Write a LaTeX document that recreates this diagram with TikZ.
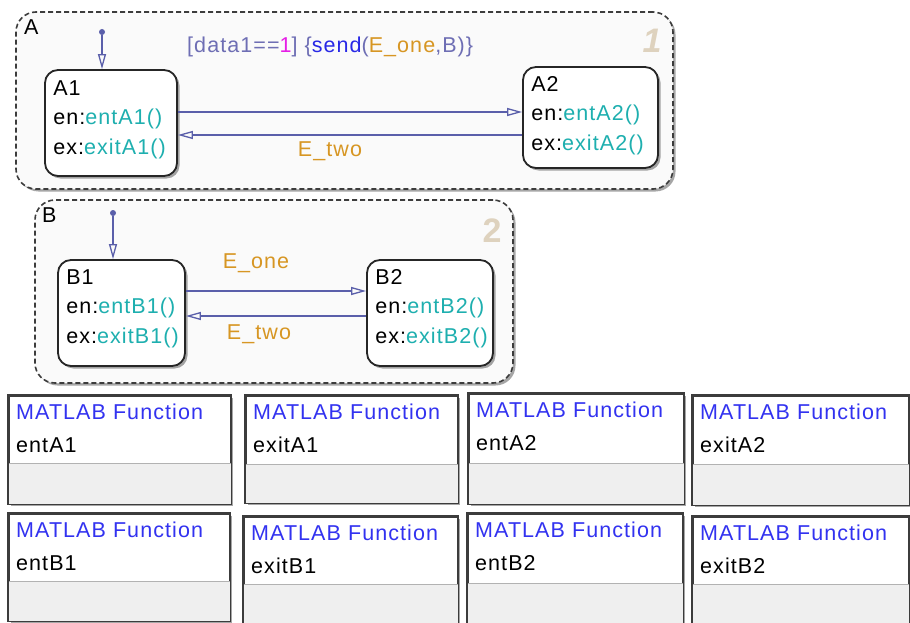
\documentclass[tikz,border=0pt]{standalone}
\usepackage{fontspec}
\setmainfont{Liberation Sans}[LetterSpace=5]
\usetikzlibrary{arrows.meta,shadows,calc}
\definecolor{trcol}{RGB}{90,95,170}
\definecolor{slate}{RGB}{110,110,180}
\definecolor{mag}{RGB}{230,30,230}
\definecolor{sendblue}{RGB}{40,40,230}
\definecolor{evorange}{RGB}{215,150,35}
\definecolor{fnteal}{RGB}{30,175,175}
\definecolor{mlblue}{RGB}{50,50,240}
\definecolor{ordcol}{RGB}{222,210,190}
\definecolor{edgegray}{RGB}{60,60,60}
\definecolor{lowgray}{RGB}{239,239,239}
\tikzset{
  shd/.style={drop shadow={shadow xshift=2.5pt,shadow yshift=-2.5pt,opacity=0.35,fill=black}},
  container/.style={draw=edgegray,line width=1.6pt,dash pattern=on 5pt off 3pt,rounded corners=20pt,fill={rgb,255:red,250;green,250;blue,250},shd,inner sep=0pt},
  stbox/.style={draw=black!85,line width=1.8pt,rounded corners=13pt,fill=white,shd,inner sep=0pt},
  stxt/.style={font=\fontsize{21.5}{29.5}\selectfont,align=left,inner sep=0pt,anchor=north west},
  lbl/.style={font=\fontsize{21.5}{23}\selectfont,inner sep=0pt},
  ordnum/.style={font=\fontsize{34}{34}\selectfont\bfseries,text=ordcol,inner sep=0pt},
  trans/.style={draw=trcol,line width=1.3pt,-{Triangle[open,length=15pt,width=8pt]}},
  dotnode/.style={circle,fill=trcol,inner sep=0pt,minimum size=6pt},
  fnbox/.style={draw=edgegray,line width=1.6pt,fill=white,shd,inner sep=0pt},
  fntitle/.style={font=\fontsize{21.5}{23}\selectfont,text=mlblue,inner sep=0pt,anchor=west},
  fnname/.style={font=\fontsize{21.5}{23}\selectfont,inner sep=0pt,anchor=west},
}
\begin{document}
\begin{tikzpicture}[x=1pt,y=-1pt]
\useasboundingbox (0,0) rectangle (910,623);
% containers
\node[container,minimum width=657pt,minimum height=177pt] (A) at (344.5,100.5) {};
\node[lbl,anchor=north west] (Alab) at (24,20) {A};
\node[ordnum,font=\fontsize{34}{34}\selectfont\bfseries\itshape] (Aord) at (652,41) {1};
% states A
\node[stbox,minimum width=132pt,minimum height=106pt] (A1) at (111,123) {};
\node[stxt] (A1t) at ($(A1.north west)+(9,11)$) {A1\\en:\textcolor{fnteal}{entA1()}\\ex:\textcolor{fnteal}{exitA1()}};
\node[stbox,minimum width=135pt,minimum height=101pt] (A2) at (590.5,117.5) {};
\node[stxt] (A2t) at ($(A2.north west)+(9,10)$) {A2\\en:\textcolor{fnteal}{entA2()}\\ex:\textcolor{fnteal}{exitA2()}};
\node[dotnode] (dA) at (102,32) {};
\draw[trans] (dA) -- (dA |- A1.north);
\draw[trans] (A1.east |- 0,112) -- (A2.west |- 0,112);
\draw[trans] (A2.west |- 0,135) -- (A1.east |- 0,135);
\node[lbl,anchor=west] (tA12) at (187,47) {\textcolor{slate}{[data1==}\textcolor{mag}{1}\textcolor{slate}{]} \textcolor{slate}{\{}\textcolor{sendblue}{send}\textcolor{slate}{(}\textcolor{evorange}{E\_one}\textcolor{slate}{,B)\}}};
\node[lbl,text=evorange] (tA21) at (330,151) {E\_two};
% container B
\node[container,minimum width=478pt,minimum height=183pt] (B) at (274,291.5) {};
\node[lbl,anchor=north west] (Blab) at (42,208) {B};
\node[ordnum] (Bord) at (492,231) {2};
\node[stbox,minimum width=127pt,minimum height=106pt] (B1) at (121.5,313) {};
\node[stxt] (B1t) at ($(B1.north west)+(9,10)$) {B1\\en:\textcolor{fnteal}{entB1()}\\ex:\textcolor{fnteal}{exitB1()}};
\node[stbox,minimum width=126pt,minimum height=106pt] (B2) at (430,313) {};
\node[stxt] (B2t) at ($(B2.north west)+(9,10)$) {B2\\en:\textcolor{fnteal}{entB2()}\\ex:\textcolor{fnteal}{exitB2()}};
\node[dotnode] (dB) at (113,213) {};
\draw[trans] (dB) -- (dB |- B1.north);
\draw[trans] (B1.east |- 0,291) -- (B2.west |- 0,291);
\draw[trans] (B2.west |- 0,316) -- (B1.east |- 0,316);
\node[lbl,text=evorange] (tB12) at (256,263) {E\_one};
\node[lbl,text=evorange] (tB21) at (259,334) {E\_two};
% MATLAB function boxes
\foreach \nm/\xa/\xb/\ya/\yb/\ys in {
  entA1/8/230/395/503/463, exitA1/245/457/395/502/464, entA2/468/683/393/503/463, exitA2/692/908/395/504/464,
  entB1/8/229/513/620/581, exitB1/243/457/516/622/584, entB2/467/682/513/622/583, exitB2/692/908/516/622/584}{
  \node[fnbox,minimum width={\xb-\xa},minimum height={\yb-\ya},anchor=north west] (f\nm) at (\xa,\ya) {};
  \fill[lowgray] ($(f\nm.west |- 0,\ys)+(0.8,0)$) rectangle ($(f\nm.south east)+(-0.8,-0.8)$);
  \draw[gray!60,line width=0.8pt] ($(f\nm.west |- 0,\ys)+(0.8,0)$) -- ($(f\nm.east |- 0,\ys)+(-0.8,0)$);
  \draw[edgegray,line width=1.6pt] (f\nm.north west) rectangle (f\nm.south east);
  \node[fntitle] (t\nm) at ($(f\nm.north west)+(8,17)$) {MATLAB Function};
  \node[fnname] (n\nm) at ($(f\nm.north west)+(8,50)$) {\nm};
}
\end{tikzpicture}
\end{document}
